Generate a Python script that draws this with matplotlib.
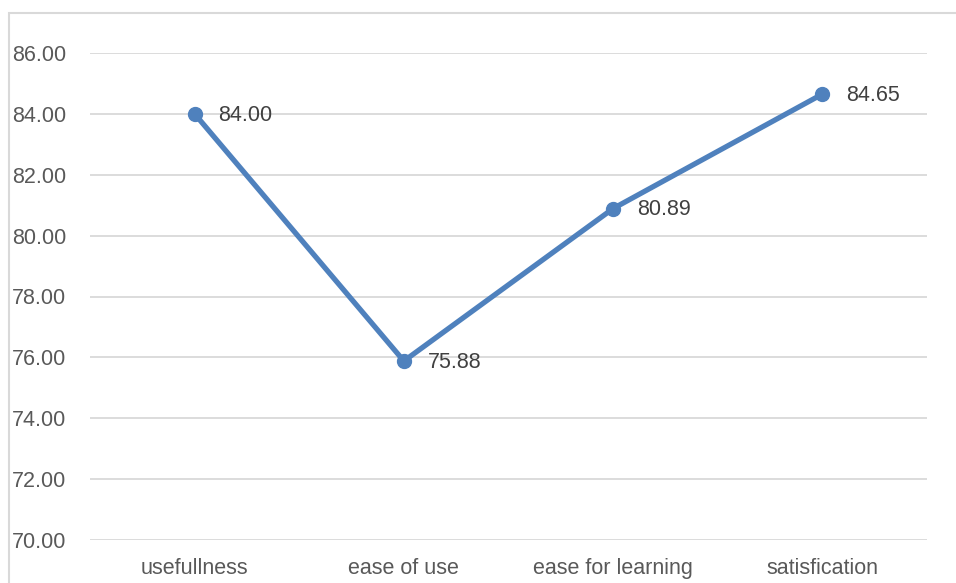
import matplotlib.pyplot as plt
from matplotlib.patches import Rectangle

categories = ["usefullness", "ease of use", "ease for learning", "satisfication"]
values = [84.00, 75.88, 80.89, 84.65]
y_ticks = [70, 72, 74, 76, 78, 80, 82, 84, 86]

plt.rcParams["font.family"] = ["Liberation Sans", "DejaVu Sans"]

fig = plt.figure(figsize=(9.56, 5.83), dpi=100)
W, H = 956, 583
ax = fig.add_axes([90 / W, 1 - 540 / H, (927 - 90) / W, (540 - 53) / H])

# chart border (right and bottom edges fall outside the picture)
fig.patches.append(Rectangle((9 / W, -0.1), 1.2, 1 - 13 / H + 0.1, transform=fig.transFigure,
                             fill=False, edgecolor="#d9d9d9", linewidth=1.5))

x = range(len(categories))
ax.plot(x, values, color="#4f81bd", linewidth=3.8, marker="o", markersize=10,
        solid_capstyle="round", zorder=3)
for xi, v in zip(x, values):
    ax.annotate(f"{v:.2f}", (xi, v), xytext=(17, -1), textcoords="offset points",
                ha="left", va="center", fontsize=15.5, color="#404040")

ax.set_xlim(-0.5, len(categories) - 0.5)
ax.set_ylim(70, 86)
ax.set_yticks(y_ticks)
ax.set_yticklabels([f"{t:.2f}" for t in y_ticks])
ax.set_xticks(list(x))
ax.set_xticklabels(categories)
ax.tick_params(axis="y", length=0, pad=17, labelsize=15.5, labelcolor="#595959")
ax.tick_params(axis="x", length=0, pad=13, labelsize=15.5, labelcolor="#595959")
ax.grid(axis="y", color="#d9d9d9", linewidth=1.3)
ax.set_axisbelow(True)
for s in ax.spines.values():
    s.set_visible(False)

fig.savefig("out.png", dpi=100)
